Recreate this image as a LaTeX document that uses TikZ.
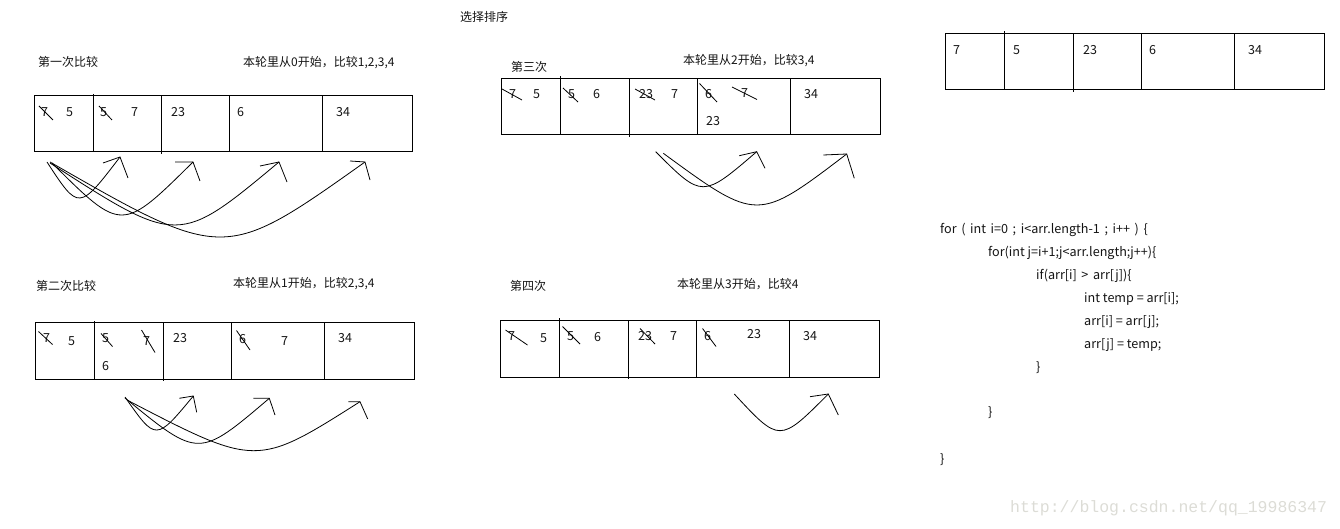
\documentclass[tikz,border=0pt]{standalone}
\usepackage{fontspec}
\setmainfont{Noto Sans CJK SC}
\newfontfamily\wmfont{Liberation Mono}
\definecolor{wmgray}{RGB}{220,220,214}
\definecolor{txt}{RGB}{20,20,20}
\newcommand\hcurve[6]{%
  \coordinate (#1s) at #2;
  \coordinate (#1t) at #4;
  \draw[curvestroke] (#1s) .. controls #3 .. (#1t);
  \draw[curvestroke] #5 -- (#1t) -- #6;}
\begin{document}
\begin{tikzpicture}[x=1pt,y=-1pt,
  lbl/.style={anchor=west,inner sep=0pt,font=\fontsize{12}{14}\selectfont,text=txt},
  num/.style={anchor=west,inner sep=0pt,font=\fontsize{12.5}{14}\selectfont,text=txt},
  code/.style={anchor=west,inner sep=0pt,font=\fontsize{12.6}{14}\selectfont,text=txt},
  boxline/.style={line width=1pt,black},
  strk/.style={line width=0.8pt,black},
  curvestroke/.style={line width=0.8pt,black}]
\useasboundingbox (0,0) rectangle (1340,529);

% title
\node[lbl] (title) at (460,17) {选择排序};

% ---------- panel 1 ----------
\node[lbl] (p1a) at (38,62) {第一次比较};
\node[lbl] (p1b) at (243,63) {本轮里从0开始，比较1,2,3,4};
\draw[boxline] (34,96) rectangle (412,152);
\draw[boxline] (93,94) -- (93,152) (161.5,96) -- (161.5,154) (229,96) -- (229,152) (322.5,96) -- (322.5,152);
\node[num] (c11) at (41,112) {7};
\node[num] (c12) at (66,112) {5};
\node[num] (c13) at (100,112) {5};
\node[num] (c14) at (131,112) {7};
\node[num] (c15) at (171,112) {23};
\node[num] (c16) at (237,112) {6};
\node[num] (c17) at (336,112) {34};
\draw[strk] (39,106) -- (53,120);
\draw[strk] (99,106) -- (112,120);
\hcurve{a1}{(47,162)}{(78.8,210.8)}{(120,157)}{(103,163)}{(128,178)}
\hcurve{a2}{(52,163)}{(121.8,232.5)}{(193,162)}{(175,162)}{(200,181)}
\hcurve{a3}{(50,163)}{(178.5,245.8)}{(279,162)}{(260,166)}{(287,182)}
\hcurve{a4}{(50,162)}{(224.2,262)}{(365,162)}{(350,161)}{(370,180)}

% ---------- panel 3 ----------
\node[lbl] (p3a) at (511,67) {第三次};
\node[lbl] (p3b) at (683,61) {本轮里从2开始，比较3,4};
\draw[boxline] (501.5,78.5) rectangle (880,135);
\draw[boxline] (560.5,76.5) -- (560.5,135) (629.5,78.5) -- (629.5,137) (697.5,78.5) -- (697.5,135) (790.5,78.5) -- (790.5,135);
\node[num] (c31) at (509,94) {7};
\node[num] (c32) at (533,94) {5};
\node[num] (c33) at (568,94) {5};
\node[num] (c34) at (593,94) {6};
\node[num] (c35) at (639,94) {23};
\node[num] (c36) at (671,94) {7};
\node[num] (c37) at (705,94) {6};
\node[num] (c38) at (741,93) {7};
\node[num] (c39) at (706,121) {23};
\node[num] (c3a) at (804,94) {34};
\draw[strk] (502,89) -- (522,100);
\draw[strk] (563,88) -- (578,102);
\draw[strk] (635,89) -- (655,100);
\draw[strk] (699.5,83.5) -- (717,102);
\draw[strk] (732,87) -- (757,99.5);
\hcurve{b1}{(655.7,151.7)}{(702.3,198.4)}{(756.7,151.7)}{(739.3,155.7)}{(765,168.3)}
\hcurve{b2}{(663.3,153.3)}{(757.3,222.1)}{(846.7,154)}{(823.3,155)}{(854.3,178.3)}

% ---------- panel 2 ----------
\node[lbl] (p2a) at (36,286) {第二次比较};
\node[lbl] (p2b) at (233,284) {本轮里从1开始，比较2,3,4};
\draw[boxline] (35.5,322.5) rectangle (414.5,379);
\draw[boxline] (94.5,321) -- (94.5,379) (163.5,322.5) -- (163.5,381) (231.5,322.5) -- (231.5,379) (324.5,322.5) -- (324.5,379);
\node[num] (c21) at (43,338) {7};
\node[num] (c22) at (68,341.5) {5};
\node[num] (c23) at (102,338.5) {5};
\node[num] (c24) at (143,341) {7};
\node[num] (c25) at (102,366) {6};
\node[num] (c26) at (173,338.5) {23};
\node[num] (c27) at (239,339) {6};
\node[num] (c28) at (281,341) {7};
\node[num] (c29) at (338,338.5) {34};
\draw[strk] (38.5,331.5) -- (52.5,344.5);
\draw[strk] (101,333.5) -- (112.5,346.5);
\draw[strk] (141.5,330) -- (155,352.5);
\draw[strk] (236.5,330.5) -- (250,350);
\hcurve{d1}{(125,397)}{(155.9,441.2)}{(193.3,396)}{(179.3,398.3)}{(196.7,412.3)}
\hcurve{d2}{(125,398)}{(198.7,458.4)}{(269.3,398.3)}{(253.3,398.3)}{(275,415)}
\hcurve{d3}{(127,400)}{(256.6,467.3)}{(360,401.7)}{(348.3,401.7)}{(367.7,419)}

% ---------- panel 4 ----------
\node[lbl] (p4a) at (510,286) {第四次};
\node[lbl] (p4b) at (677,284) {本轮里从3开始，比较4};
\draw[boxline] (500.5,320.5) rectangle (879.5,377.5);
\draw[boxline] (559.5,318) -- (559.5,377.5) (628.5,320.5) -- (628.5,378.5) (696.5,320.5) -- (696.5,377.5) (789.5,320.5) -- (789.5,377.5);
\node[num] (c41) at (508,336.5) {7};
\node[num] (c42) at (540,338.5) {5};
\node[num] (c43) at (567,336.5) {5};
\node[num] (c44) at (594,337.5) {6};
\node[num] (c45) at (638,336.5) {23};
\node[num] (c46) at (670,336.5) {7};
\node[num] (c47) at (704,336.5) {6};
\node[num] (c48) at (747,334.5) {23};
\node[num] (c49) at (803,336.5) {34};
\draw[strk] (505.5,330) -- (527.5,345);
\draw[strk] (562.5,326.5) -- (580,344);
\draw[strk] (640,328.5) -- (655,344);
\draw[strk] (702.5,328.5) -- (716,346.5);
\hcurve{e1}{(734.3,394)}{(779.6,442.9)}{(828.3,394)}{(810,396.7)}{(838.3,415)}

% ---------- original array ----------
\draw[boxline] (945.5,33.5) rectangle (1324.5,90);
\draw[boxline] (1004.5,31.5) -- (1004.5,90) (1073.5,33.5) -- (1073.5,92) (1141.5,33.5) -- (1141.5,90) (1234.5,33.5) -- (1234.5,90);
\node[num] (r1) at (953,50) {7};
\node[num] (r2) at (1013,50) {5};
\node[num] (r3) at (1083,50) {23};
\node[num] (r4) at (1149,50) {6};
\node[num] (r5) at (1248,50) {34};

% ---------- code ----------
\node[code] (k1) at (940,230) {\spaceskip=4.6pt for ( int i=0 ; i<arr.length-1 ; i++ ) \{};
\node[code] (k2) at (988,253) {for(int j=i+1;j<arr.length;j++)\{};
\node[code] (k3) at (1036,276) {\spaceskip=4.6pt if(arr[i] > arr[j])\{};
\node[code] (k4) at (1084,299) {int temp = arr[i];};
\node[code] (k5) at (1084,322) {arr[i] = arr[j];};
\node[code] (k6) at (1084,345) {arr[j] = temp;};
\node[code] (k7) at (1036,368) {\}};
\node[code] (k8) at (988,413) {\}};
\node[code] (k9) at (940,460) {\}};

% watermark
\node[anchor=west,inner sep=0pt,font=\wmfont\fontsize{16.5}{18}\selectfont,text=wmgray] (wm) at (1010,508) {http://blog.csdn.net/qq\_19986347};
\end{tikzpicture}
\end{document}
